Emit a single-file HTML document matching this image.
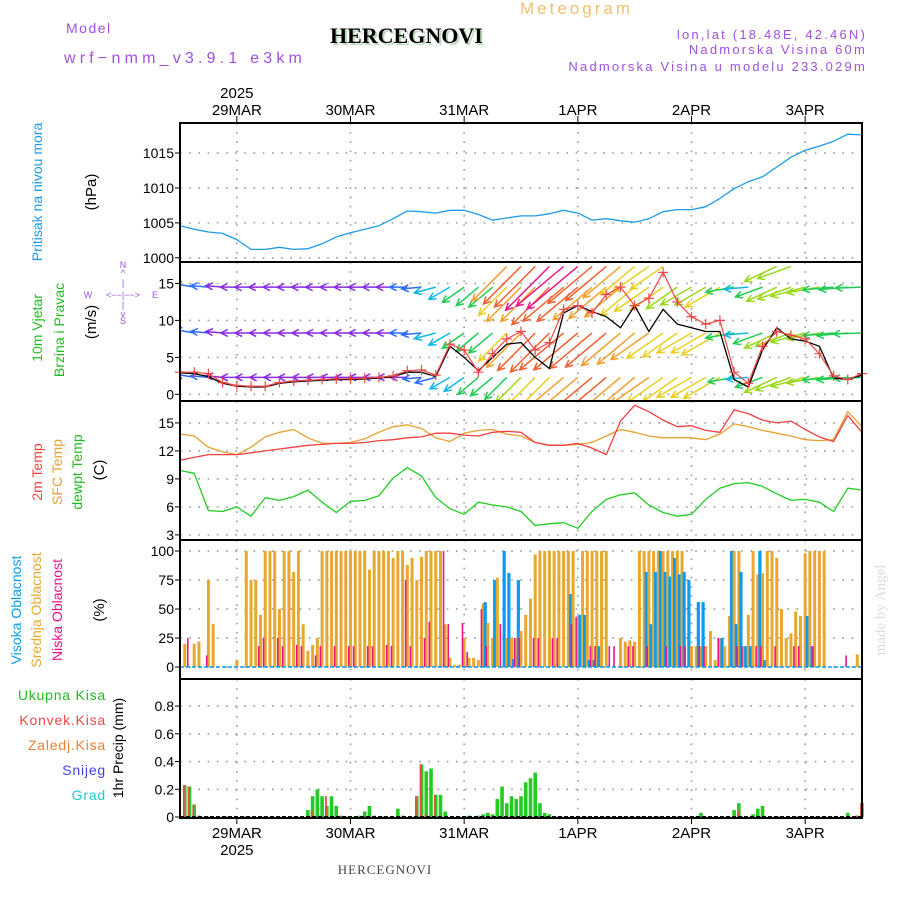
<!DOCTYPE html>
<html><head><meta charset="utf-8">
<style>
html,body{margin:0;padding:0;background:#fff;}
svg{display:block;font-family:"Liberation Sans",sans-serif;}
</style></head>
<body>
<svg id="c" width="900" height="900" viewBox="0 0 900 900"></svg>
<script>
// ---------- DATA ----------
const dayLabels = ["29MAR","30MAR","31MAR","1APR","2APR","3APR"];
const yearLabel = "2025";
const pressTicks = [1000,1005,1010,1015];
const windTicks = [0,5,10,15];
const tempTicks = [3,6,9,12,15];
const cloudTicks = [0,25,50,75,100];
const precipTicks = [0,0.2,0.4,0.6,0.8];
// 3-hourly series (49 points from 28MAR 12Z)
const pressure = [1004.6,1004.1,1003.7,1003.5,1002.6,1001.2,1001.2,1001.5,1001.2,1001.3,1002.0,1003.0,1003.6,1004.1,1004.6,1005.6,1006.7,1006.6,1006.4,1006.8,1006.8,1006.2,1005.4,1005.7,1006.0,1006.0,1006.3,1006.8,1006.4,1005.4,1005.6,1005.3,1005.1,1005.6,1006.6,1006.9,1006.9,1007.3,1008.5,1009.9,1010.9,1011.6,1013.0,1014.4,1015.4,1016.0,1016.7,1017.7,1017.6];
const temp2m = [11.0,11.3,11.6,11.6,11.6,11.8,12.0,12.2,12.4,12.6,12.7,12.8,12.8,12.9,13.1,13.2,13.4,13.5,13.9,13.9,13.7,13.6,14.0,14.1,14.0,12.9,12.6,12.6,12.8,12.3,11.6,15.2,16.9,16.2,15.3,14.6,14.7,14.2,14.0,16.4,16.0,15.3,15.0,15.2,14.3,13.5,13.0,15.8,14.0];
const tempSfc = [13.8,13.6,12.4,11.9,11.6,12.4,13.5,14.0,14.3,13.4,12.8,12.8,12.9,13.3,14.0,14.6,14.8,14.4,13.4,13.0,13.9,14.2,14.3,13.8,13.6,12.9,12.6,12.6,12.7,12.9,13.6,14.3,14.0,13.6,13.4,13.4,13.4,13.2,13.8,14.9,14.6,14.2,13.9,13.6,13.2,13.1,13.2,16.2,14.6];
const dewpt = [9.9,9.6,5.6,5.5,6.0,5.0,7.0,6.7,7.1,7.8,6.5,5.4,6.6,6.7,7.2,9.1,10.2,9.3,7.0,5.8,5.2,6.5,6.2,6.0,5.5,4.0,4.2,4.3,3.7,5.5,6.8,7.3,7.5,6.2,5.4,5.0,5.2,6.8,8.0,8.5,8.6,8.2,7.4,6.7,6.8,6.5,5.5,8.0,7.8];
const windGust = [3.0,3.0,2.8,1.6,1.2,1.1,1.1,1.6,1.8,1.9,2.0,2.1,2.1,2.2,2.3,2.5,3.2,3.3,2.6,6.8,6.0,3.0,5.5,7.5,8.5,6.0,7.0,11.5,12.0,11.0,13.5,14.5,12.0,13.0,16.5,12.5,10.5,9.5,10.0,3.0,1.5,6.5,8.5,8.0,7.5,5.5,2.5,2.0,2.8];
const wind10m = [2.9,2.8,2.4,1.5,1.1,1.0,1.0,1.5,1.7,1.8,1.9,2.0,2.0,2.1,2.2,2.4,3.0,3.0,2.4,6.5,5.0,3.2,5.0,6.8,7.0,5.0,3.5,11.0,12.0,11.2,10.5,9.0,12.0,8.5,11.5,9.5,9.0,8.5,8.5,2.0,1.0,6.0,9.0,7.5,7.2,6.5,2.2,2.0,2.6];
const windDir = [190,190,185,185,180,180,180,180,180,180,180,180,180,180,180,180,180,175,165,150,145,140,140,135,135,135,135,140,140,140,140,140,140,145,145,145,150,150,150,170,175,160,155,160,165,170,175,175,178];
const wsLow = [2.5,2.2,2,1.8,1.6,1.5,1.5,1.5,1.5,1.5,1.5,1.5,1.5,1.5,1.5,1.5,1.8,2.2,2.8,3.2,3.5,4,4.5,5,6,7,8,9,9.5,10,10,9.5,9,8.5,8,7.5,7,7,7.5,4,3,4.5,6,6.5,6,5.5,5,5,4.5];
const wsMid = [2.8,2.4,2,1.8,1.6,1.6,1.6,1.6,1.6,1.6,1.6,1.6,1.6,1.6,1.6,1.7,2,2.5,3,3.5,4,4.5,5,7,9,10,10.5,11,11,10.5,10,9.5,9,8.5,8,7.5,7,7,8,4.5,3.5,5,6,6.5,6,5.5,5,5,4.5];
const wsHigh = [2.8,2.5,2,1.8,1.7,1.7,1.7,1.7,1.7,1.7,1.7,1.7,1.7,1.7,1.7,1.8,2,2.5,3,3.5,4,4.5,5,7,9,9,10,10,10,9.5,9,8.5,8,7.5,7,6.5,6,6,7,4.5,3.5,4.5,5.5,6,6,5.5,5,4.5,4];
const wsTop = [0,0,0,0,0,0,0,0,0,0,0,0,0,0,0,0,0,0,0,0,0,0,0,9,10,11,12,12,13,11,10,9,8,8,7,0,0,0,0,0,0,0,6,6,0,0,0,0,0];
const windRowLevels = [2.3,8.3,14.5,17.3];
// hourly series (145 points)
const cloudMid = [0,20,0,20,22,0,75,37,0,0,0,0,6,0,100,75,75,45,100,100,100,50,100,100,
82,100,37,14,19,25,100,100,100,100,100,100,100,100,100,100,84,100,100,100,100,94,100,100,
88,94,75,95,100,100,100,100,37,8,2,2,25,8,8,6,55,38,25,77,0,25,25,25,
31,45,59,97,100,100,100,100,100,100,100,100,44,100,100,100,100,100,100,0,0,25,22,23,
22,100,100,100,100,100,100,100,100,100,100,0,18,18,18,18,31,6,25,18,44,100,100,18,
45,100,80,81,100,100,94,50,25,29,48,44,98,100,100,100,100,0,0,0,0,0,0,11,
0];
const cloudHigh = [0,0,0,0,0,0,0,0,0,0,0,0,0,0,0,0,0,0,0,0,0,0,0,0,
0,0,0,0,0,0,0,0,0,0,0,0,0,0,0,0,0,0,0,0,0,0,0,0,
0,0,0,0,0,0,0,0,0,0,0,0,0,0,0,0,56,0,75,0,100,81,7,75,
0,0,0,0,0,0,0,0,0,0,63,0,45,45,6,6,18,0,0,0,0,0,0,0,
0,0,82,37,82,100,82,78,94,80,82,75,0,56,56,0,0,0,25,0,100,37,82,18,
18,0,100,6,0,0,0,0,0,0,0,0,44,18,0,0,0,0,0,0,0,0,0,0,
0];
const cloudLow = [0,0,25,0,0,0,10,0,0,0,0,0,0,0,0,0,0,18,25,0,0,25,18,0,
0,19,18,0,0,10,18,0,0,18,0,0,18,18,0,0,18,18,0,0,19,18,0,0,
75,18,0,0,25,39,0,0,100,37,0,0,38,13,0,0,50,18,0,0,37,0,0,25,
25,0,0,25,25,0,0,25,25,0,0,37,43,0,0,18,18,0,0,18,18,0,0,18,
18,0,0,18,0,0,0,18,0,0,18,18,0,0,18,18,0,0,25,0,0,0,18,18,
0,0,18,18,0,0,18,0,0,0,18,18,0,0,18,0,0,0,0,0,0,10,0,0,
0];
const precipTotal = [0,.23,.22,.09,.01,0,0,0,0,0,0,0,0,0,0,0,0,0,0,0,0,0,0,0,
0,0,0,.05,.15,.2,.15,.08,.15,.08,.01,0,0,0,.01,.04,.08,.01,0,0,0,0,.06,.01,
0,0,.15,.38,.33,.35,.16,.16,.04,0,0,0,0,.01,0,.01,.02,.03,.02,.13,.22,.1,.15,.13,
.15,.25,.28,.32,.1,.03,.02,0,0,0,0,0,0,0,0,0,0,0,0,0,0,0,0,0,
0,0,0,0,0,0,0,0,0,0,0,0,0,0,.03,0,0,0,0,0,0,.05,.1,0,
0,.02,.06,.08,0,0,0,0,0,0,0,0,0,0,0,0,0,0,0,0,0,.03,0,.01,
.1];
const precipConv = [0,.23,.22,.09,0,0,0,0,0,0,0,0,0,0,0,0,0,0,0,0,0,0,0,0,
0,0,0,0,.05,0,0,.15,0,0,0,0,0,0,0,0,0,0,0,0,0,0,0,0,
0,0,.15,.38,.02,0,.16,0,0,0,0,0,0,0,0,0,0,0,0,0,0,0,0,0,
0,0,0,0,0,0,0,0,0,0,0,0,0,0,0,0,0,0,0,0,0,0,0,0,
0,0,0,0,0,0,0,0,0,0,0,0,0,0,0,0,0,0,0,0,0,0,.05,0,
0,0,0,0,0,0,0,0,0,0,0,0,0,0,0,0,0,0,0,0,0,0,0,.01,
.1];

// ---------- GEOMETRY ----------
const NS="http://www.w3.org/2000/svg";
const svg=document.getElementById('c');
const X0=180, X1=862, NH=144;
const xh = h => X0 + h*(X1-X0)/NH;
const x3 = i => xh(i*3);
const panels = {
  press:{top:123,bot:262,min:999.4,max:1019.3},
  wind:{top:262,bot:401,min:-0.9,max:17.9},
  temp:{top:401,bot:540,min:2.45,max:17.35},
  cloud:{top:540,bot:679,min:-10.3,max:109.5},
  precip:{top:679,bot:818,min:-0.007,max:0.995}
};
function yS(p,v){return p.bot-(v-p.min)/(p.max-p.min)*(p.bot-p.top);}
function el(tag,attrs,parent){const e=document.createElementNS(NS,tag);for(const k in attrs)e.setAttribute(k,attrs[k]);(parent||svg).appendChild(e);return e;}
function txt(s,x,y,attrs,parent){const t=el('text',Object.assign({x:x,y:y},attrs),parent);t.textContent=s;return t;}

const defs=el('defs',{});
for(const k in panels){const p=panels[k];const cp=el('clipPath',{id:'clip-'+k},defs);el('rect',{x:X0,y:p.top,width:X1-X0,height:p.bot-p.top},cp);}

// ---------- GRID + AXES ----------
function panelFrame(key,ticks,fmt){
  const p=panels[key];
  const g=el('g',{});
  
  
  for(let d=0;d<6;d++){const x=xh(12+24*d);el('line',{x1:x,x2:x,y1:p.top,y2:p.bot,stroke:'#999','stroke-width':1.6,'stroke-dasharray':'1.6 7.6'},g);}
  ticks.forEach(t=>{const y=yS(p,t);
    el('line',{x1:X0,x2:X1,y1:y,y2:y,stroke:'#999','stroke-width':1.6,'stroke-dasharray':'1.6 7.6'},g);
    el('line',{x1:X0-5,x2:X0,y1:y,y2:y,stroke:'#000','stroke-width':1},g);
    const lab=txt(fmt(t),X0-6,y+5,{'text-anchor':'end','font-size':14,fill:'#000'});
    
    
  });
}
panelFrame('press',pressTicks,String);
panelFrame('wind',windTicks,String);
panelFrame('temp',tempTicks,String);
panelFrame('cloud',cloudTicks,String);
panelFrame('precip',precipTicks,t=>t===0?'0':t.toFixed(1));

// ---------- SERIES ----------
function line(key,vals,xf,color,w,name){
  const p=panels[key];
  const d=vals.map((v,i)=>(i?'L':'M')+xf(i).toFixed(1)+' '+yS(p,v).toFixed(1)).join('');
  const pa=el('path',{d:d,fill:'none',stroke:color,'stroke-width':w,'stroke-linejoin':'round','clip-path':'url(#clip-'+key+')'});
  
  
  return pa;
}
line('press',pressure,x3,'#1e9be8',1.3,'pressure-line');

function spdColor(s){
  if(s<2)return '#8a2be2';
  if(s<3)return '#2f6bff';
  if(s<4)return '#10b8e8';
  if(s<5.5)return '#22cc55';
  if(s<7)return '#9ad81a';
  if(s<8.5)return '#e8d020';
  if(s<10)return '#f0a030';
  if(s<12)return '#f06030';
  return '#e81a8a';
}
const wg=el('g',{'clip-path':'url(#clip-wind)'});


[wsLow,wsMid,wsHigh,wsTop].forEach((row,r)=>{
  const y0=yS(panels.wind,windRowLevels[r]);
  row.forEach((s,i)=>{
    if(s<=0)return;
    const a=windDir[i]*Math.PI/180;
    const L=9+4.4*s;
    const x0=x3(i),x1=x0+Math.cos(a)*L,y1=y0+Math.sin(a)*L;
    const c=spdColor(s);
    const hx=Math.cos(a),hy=Math.sin(a);
    const arr=el('path',{d:`M${x0} ${y0}L${x1} ${y1}M${x1-hx*7-hy*3.5} ${y1-hy*7+hx*3.5}L${x1} ${y1}L${x1-hx*7+hy*3.5} ${y1-hy*7-hx*3.5}`,stroke:c,'stroke-width':1.5,fill:'none'},wg);
    
    
  });
});
line('wind',wind10m,x3,'#000',1.3,'wind-speed-line');
line('wind',windGust,x3,'#f04848',1.2,'wind-gust-line');
const mg=el('g',{stroke:'#f04848','stroke-width':1.2});


windGust.forEach((v,i)=>{const x=x3(i),y=yS(panels.wind,v);
  el('path',{d:`M${x-5} ${y}H${x+5}M${x} ${y-5}V${y+5}`},mg);});

line('temp',tempSfc,x3,'#e8a030',1.3,'sfc-temp-line');
line('temp',temp2m,x3,'#f04040',1.3,'temp-2m-line');
line('temp',dewpt,x3,'#22cc22',1.3,'dewpoint-line');

const cg=el('g',{});


const pc=panels.cloud, y0c=yS(pc,0);
for(let h=0;h<=NH;h++){
  const x=xh(h);
  if(cloudMid[h]>0){const b=el('rect',{x:x-1.5,y:yS(pc,cloudMid[h]),width:3,height:y0c-yS(pc,cloudMid[h]),fill:'#e8a830'},cg);}
  if(cloudHigh[h]>0){const b=el('rect',{x:x+0.5,y:yS(pc,cloudHigh[h]),width:3.2,height:y0c-yS(pc,cloudHigh[h]),fill:'#0a9cf0'},cg);}
  if(cloudLow[h]>0){const b=el('rect',{x:x-2.5,y:yS(pc,cloudLow[h]),width:1.6,height:y0c-yS(pc,cloudLow[h]),fill:'#f0108a'},cg);}
}
el('line',{x1:X0,x2:X1,y1:y0c,y2:y0c,stroke:'#0a9cf0','stroke-width':1.5,'stroke-dasharray':'4 2'},cg);

const pg=el('g',{});


const pp=panels.precip, y0p=yS(pp,0);
for(let h=0;h<=NH;h++){
  const x=xh(h);
  if(precipTotal[h]>0){const b=el('rect',{x:x-1.8,y:yS(pp,precipTotal[h]),width:3.6,height:y0p-yS(pp,precipTotal[h]),fill:'#22cc22'},pg);}
  if(precipConv[h]>0){const b=el('rect',{x:x-1.8,y:yS(pp,precipConv[h]),width:1.8,height:y0p-yS(pp,precipConv[h]),fill:'#f04848'},pg);}
}
el('line',{x1:X0,x2:X1,y1:y0p,y2:y0p,stroke:'#000','stroke-width':2,'stroke-dasharray':'4 2'},pg);

for(const k in panels){const p=panels[k];const r=el('rect',{x:X0,y:p.top,width:X1-X0,height:p.bot-p.top,fill:'none',stroke:'#000','stroke-width':2});}

dayLabels.forEach((d,i)=>{const x=xh(12+24*i);
  el('line',{x1:x,x2:x,y1:116,y2:123,stroke:'#000'});
  const t=txt(d,x,115,{'text-anchor':'middle','font-size':15,fill:'#000'});
  
  el('line',{x1:x,x2:x,y1:818,y2:824,stroke:'#000'});
  const b=txt(d,x,838,{'text-anchor':'middle','font-size':15,fill:'#000'});
  
});
const y1=txt(yearLabel,xh(12),98,{'text-anchor':'middle','font-size':15});

const y2=txt(yearLabel,xh(12),855,{'text-anchor':'middle','font-size':15});

</script>

<svg width="900" height="900" style="position:absolute;left:0;top:0" font-family="Liberation Sans, sans-serif">
  <text x="520" y="14" font-size="17" fill="#f0c070" letter-spacing="3">Meteogram</text>
  <text x="66" y="33" font-size="14" fill="#a050e0" letter-spacing="1.5">Model</text>
  <text x="64" y="63" font-size="16" fill="#a050e0" letter-spacing="4.2">wrf−nmm_v3.9.1 e3km</text>
  <text x="332" y="45" font-size="22" font-weight="bold" font-family="Liberation Serif, serif" fill="#bcd8bc">HERCEGNOVI</text>
  <text x="330" y="43" font-size="22" font-weight="bold" font-family="Liberation Serif, serif" fill="#000">HERCEGNOVI</text>
  <text x="867" y="39" font-size="13" fill="#a050e0" text-anchor="end" letter-spacing="2.2">lon,lat (18.48E, 42.46N)</text>
  <text x="867" y="54" font-size="13" fill="#a050e0" text-anchor="end" letter-spacing="2.2">Nadmorska Visina 60m</text>
  <text x="867" y="71" font-size="13" fill="#a050e0" text-anchor="end" letter-spacing="2.2">Nadmorska Visina u modelu 233.029m</text>

  <text transform="translate(42,192) rotate(-90)" font-size="14" fill="#1e9be8" text-anchor="middle">Pritisak na nivou mora</text>
  <text transform="translate(96,192) rotate(-90)" font-size="15" fill="#000" text-anchor="middle">(hPa)</text>

  <text transform="translate(42,328) rotate(-90)" font-size="14" fill="#22bb22" text-anchor="middle">10m Vjetar</text>
  <text transform="translate(64,330) rotate(-90)" font-size="14" fill="#22bb22" text-anchor="middle">Brzina i Pravac</text>
  <text transform="translate(96,322) rotate(-90)" font-size="15" fill="#000" text-anchor="middle">(m/s)</text>
  <g font-size="9" fill="#a050e0" text-anchor="middle">
    <text x="123" y="268">N</text><text x="123" y="276">^</text><text x="123" y="286">|</text>
    <text x="88" y="298">W</text><text x="123" y="298">&lt;−−|−−&gt;</text><text x="155" y="298">E</text>
    <text x="123" y="308">|</text><text x="123" y="317">v</text><text x="123" y="324">S</text>
  </g>

  <text transform="translate(42,472) rotate(-90)" font-size="14" fill="#f04040" text-anchor="middle">2m Temp</text>
  <text transform="translate(62,472) rotate(-90)" font-size="14" fill="#e8a030" text-anchor="middle">SFC Temp</text>
  <text transform="translate(82,472) rotate(-90)" font-size="14" fill="#22bb22" text-anchor="middle">dewpt Temp</text>
  <text transform="translate(104,470) rotate(-90)" font-size="15" fill="#000" text-anchor="middle">(C)</text>

  <text transform="translate(21,610) rotate(-90)" font-size="14" fill="#0a9cf0" text-anchor="middle">Visoka Oblacnost</text>
  <text transform="translate(41,610) rotate(-90)" font-size="14" fill="#e8a830" text-anchor="middle">Srednja Oblacnost</text>
  <text transform="translate(62,610) rotate(-90)" font-size="14" fill="#f0108a" text-anchor="middle">Niska Oblacnost</text>
  <text transform="translate(104,610) rotate(-90)" font-size="15" fill="#000" text-anchor="middle">(%)</text>

  <text x="106" y="700" font-size="14" fill="#22bb22" text-anchor="end" letter-spacing="0.8">Ukupna Kisa</text>
  <text x="106" y="725" font-size="14" fill="#f04848" text-anchor="end" letter-spacing="0.8">Konvek.Kisa</text>
  <text x="106" y="750" font-size="14" fill="#f08030" text-anchor="end" letter-spacing="0.8">Zaledj.Kisa</text>
  <text x="106" y="775" font-size="14" fill="#4040f0" text-anchor="end" letter-spacing="0.8">Snijeg</text>
  <text x="106" y="800" font-size="14" fill="#20c8d8" text-anchor="end" letter-spacing="0.8">Grad</text>
  <text transform="translate(123,748) rotate(-90)" font-size="14" fill="#000" text-anchor="middle">1hr Precip (mm)</text>

  <text transform="translate(885,610) rotate(-90)" font-size="15" fill="#d8e0d8" font-family="Liberation Serif, serif" text-anchor="middle">made by Angel</text>
  <text x="385" y="874" font-size="13" fill="#444" font-family="Liberation Serif, serif" text-anchor="middle" letter-spacing="1">HERCEGNOVI</text>
</svg>
</body></html>
